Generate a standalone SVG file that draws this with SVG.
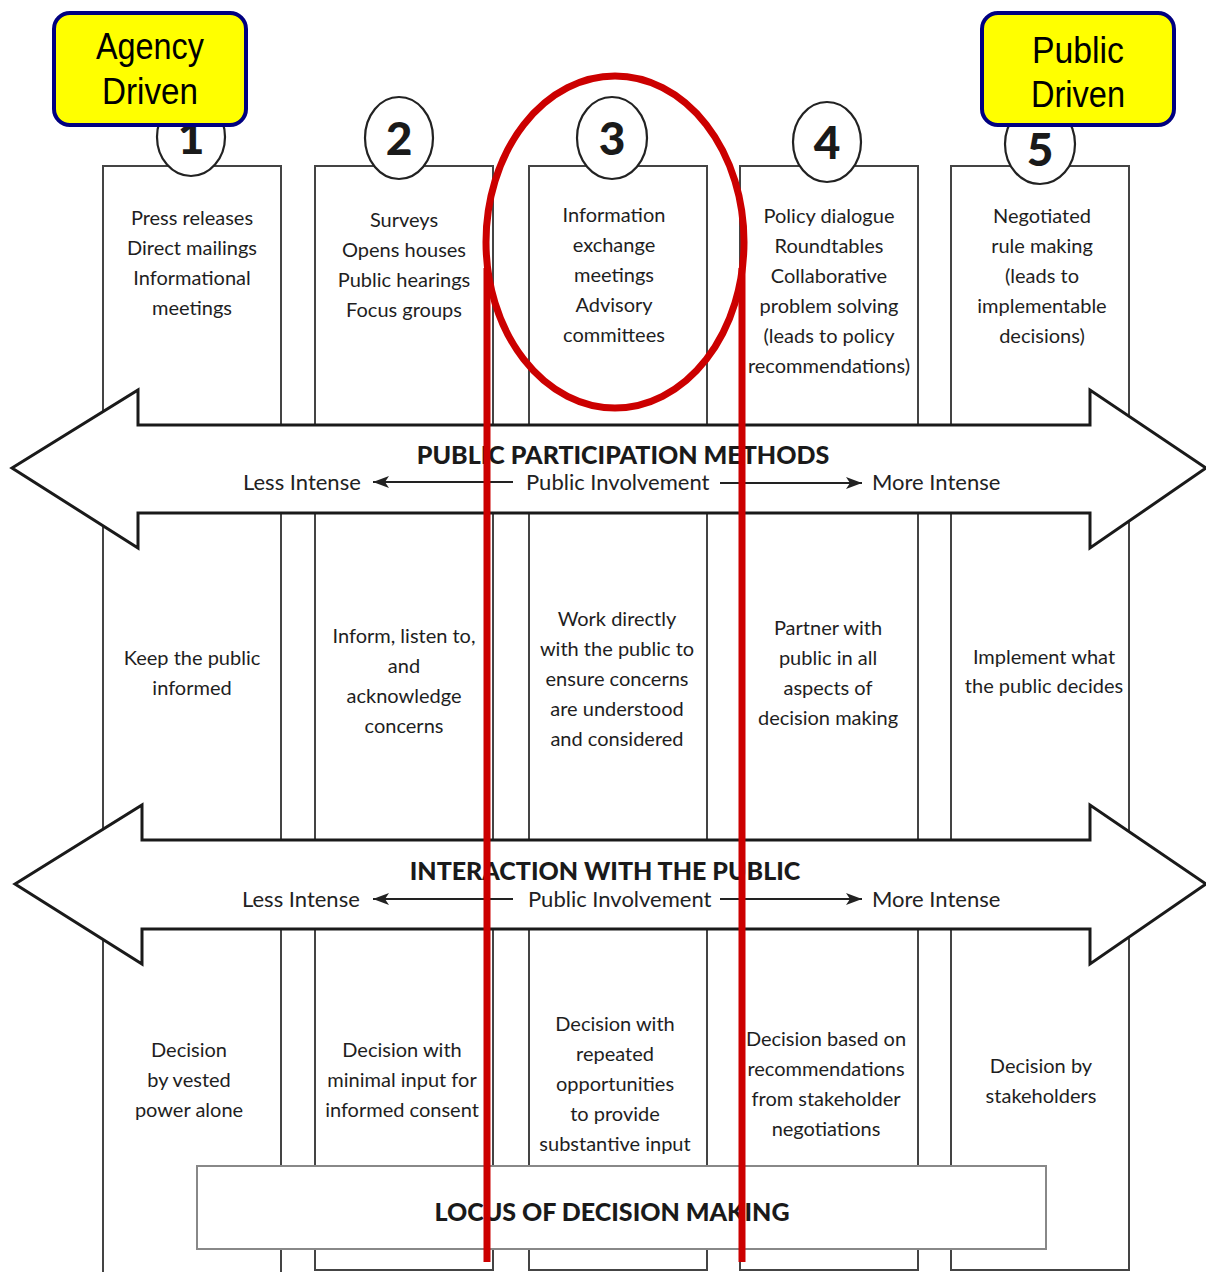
<svg xmlns="http://www.w3.org/2000/svg" width="1206" height="1272" viewBox="0 0 1206 1272">
<defs>
<style>
.col{fill:none;stroke:#444;stroke-width:2}
.circ{fill:#fff;stroke:#222;stroke-width:2.2}
.num{font-family:Lato,"DejaVu Sans",sans-serif;font-weight:900;font-size:46px;fill:#1a1a1a;text-anchor:middle}
.t{font-family:Lato,"DejaVu Sans",sans-serif;font-size:20px;fill:#1e1e1e;text-anchor:middle}
.lab{font-family:Lato,"DejaVu Sans",sans-serif;font-size:22px;fill:#222}
.head{font-family:Lato,"DejaVu Sans",sans-serif;font-weight:900;font-size:25px;fill:#1a1a1a;text-anchor:middle}
.big{fill:#fff;stroke:#1a1a1a;stroke-width:3;stroke-linejoin:miter}
.small{stroke:#222;stroke-width:2;fill:none}
.red{stroke:#cc0000;stroke-width:7;fill:none}
.yel{fill:#ffff00;stroke:#000080;stroke-width:4}
.yt{font-family:"Liberation Sans",Arial,sans-serif;font-size:37px;fill:#000;text-anchor:middle}
</style>
<marker id="ah2" viewBox="0 0 16 12" refX="16" refY="6" markerWidth="16" markerHeight="12" markerUnits="userSpaceOnUse" orient="auto">
<path d="M0,0 L16,6 L0,12 L4,6 Z" fill="#222"/>
</marker>
</defs>
<rect width="1206" height="1272" fill="#fff"/>

<g id="columns">
<path class="col" d="M103,1272 V166 H281 V1272"/>
<path class="col" d="M315,1270 V166 H493 V1270 Z"/>
<path class="col" d="M529,1270 V166 H707 V1270 Z"/>
<path class="col" d="M740,1270 V166 H918 V1270 Z"/>
<path class="col" d="M951,1270 V166 H1129 V1270 Z"/>
</g>

<g id="col1-methods">
<ellipse class="circ" cx="191" cy="137" rx="34" ry="39"/>
<text class="num" x="191" y="154">1</text>
<text class="t" x="192" y="225">Press releases</text>
<text class="t" x="192" y="255">Direct mailings</text>
<text class="t" x="192" y="285">Informational</text>
<text class="t" x="192" y="315">meetings</text>
</g>
<g id="col2-methods">
<ellipse class="circ" cx="399" cy="138" rx="34" ry="41"/>
<text class="num" x="399" y="155">2</text>
<text class="t" x="404" y="227">Surveys</text>
<text class="t" x="404" y="257">Opens houses</text>
<text class="t" x="404" y="287">Public hearings</text>
<text class="t" x="404" y="317">Focus groups</text>
</g>
<g id="col3-methods">
<ellipse class="circ" cx="612" cy="138" rx="35" ry="41"/>
<text class="num" x="612" y="155">3</text>
<text class="t" x="614" y="222">Information</text>
<text class="t" x="614" y="252">exchange</text>
<text class="t" x="614" y="282">meetings</text>
<text class="t" x="614" y="312">Advisory</text>
<text class="t" x="614" y="342">committees</text>
</g>
<g id="col4-methods">
<ellipse class="circ" cx="827" cy="142" rx="34" ry="40"/>
<text class="num" x="827" y="159">4</text>
<text class="t" x="829" y="223">Policy dialogue</text>
<text class="t" x="829" y="253">Roundtables</text>
<text class="t" x="829" y="283">Collaborative</text>
<text class="t" x="829" y="313">problem solving</text>
<text class="t" x="829" y="343">(leads to policy</text>
<text class="t" x="829" y="373">recommendations)</text>
</g>
<g id="col5-methods">
<ellipse class="circ" cx="1040" cy="144" rx="35" ry="40"/>
<text class="num" x="1040" y="166">5</text>
<text class="t" x="1042" y="223">Negotiated</text>
<text class="t" x="1042" y="253">rule making</text>
<text class="t" x="1042" y="283">(leads to</text>
<text class="t" x="1042" y="313">implementable</text>
<text class="t" x="1042" y="343">decisions)</text>
</g>

<g id="col1-interaction">
<text class="t" x="192" y="665">Keep the public</text>
<text class="t" x="192" y="695">informed</text>
</g>
<g id="col2-interaction">
<text class="t" x="404" y="643">Inform, listen to,</text>
<text class="t" x="404" y="673">and</text>
<text class="t" x="404" y="703">acknowledge</text>
<text class="t" x="404" y="733">concerns</text>
</g>
<g id="col3-interaction">
<text class="t" x="617" y="626">Work directly</text>
<text class="t" x="617" y="656">with the public to</text>
<text class="t" x="617" y="686">ensure concerns</text>
<text class="t" x="617" y="716">are understood</text>
<text class="t" x="617" y="746">and considered</text>
</g>
<g id="col4-interaction">
<text class="t" x="828" y="635">Partner with</text>
<text class="t" x="828" y="665">public in all</text>
<text class="t" x="828" y="695">aspects of</text>
<text class="t" x="828" y="725">decision making</text>
</g>
<g id="col5-interaction">
<text class="t" x="1044" y="664">Implement what</text>
<text class="t" x="1044" y="693">the public decides</text>
</g>

<g id="col1-decision">
<text class="t" x="189" y="1057">Decision</text>
<text class="t" x="189" y="1087">by vested</text>
<text class="t" x="189" y="1117">power alone</text>
</g>
<g id="col2-decision">
<text class="t" x="402" y="1057">Decision with</text>
<text class="t" x="402" y="1087">minimal input for</text>
<text class="t" x="402" y="1117">informed consent</text>
</g>
<g id="col3-decision">
<text class="t" x="615" y="1031">Decision with</text>
<text class="t" x="615" y="1061">repeated</text>
<text class="t" x="615" y="1091">opportunities</text>
<text class="t" x="615" y="1121">to provide</text>
<text class="t" x="615" y="1151">substantive input</text>
</g>
<g id="col4-decision">
<text class="t" x="826" y="1046">Decision based on</text>
<text class="t" x="826" y="1076">recommendations</text>
<text class="t" x="826" y="1106">from stakeholder</text>
<text class="t" x="826" y="1136">negotiations</text>
</g>
<g id="col5-decision">
<text class="t" x="1041" y="1073">Decision by</text>
<text class="t" x="1041" y="1103">stakeholders</text>
</g>

<g id="methods-arrow">
<path class="big" d="M12,468 L138,390 L138,425 L1090,425 L1090,390 L1206,468 L1090,548 L1090,513 L138,513 L138,548 Z"/>
<text class="head" x="623" y="464">PUBLIC PARTICIPATION METHODS</text>
<text class="lab" x="243" y="490">Less Intense</text>
<text class="lab" x="526" y="490">Public Involvement</text>
<text class="lab" x="872" y="490">More Intense</text>
</g>
<g id="interaction-arrow">
<path class="big" d="M15,884 L142,805 L142,840 L1090,840 L1090,805 L1206,884 L1090,964 L1090,929 L142,929 L142,964 Z"/>
<text class="head" x="605" y="880">INTERACTION WITH THE PUBLIC</text>
<text class="lab" x="242" y="907">Less Intense</text>
<text class="lab" x="528" y="907">Public Involvement</text>
<text class="lab" x="872" y="907">More Intense</text>
</g>

<g id="connectors">
<line class="small" x1="513" y1="482" x2="373" y2="482" marker-end="url(#ah2)"/>
<line class="small" x1="720" y1="483" x2="862" y2="483" marker-end="url(#ah2)"/>
<line class="small" x1="513" y1="899" x2="373" y2="899" marker-end="url(#ah2)"/>
<line class="small" x1="720" y1="899" x2="862" y2="899" marker-end="url(#ah2)"/>
</g>

<g id="locus">
<rect x="197" y="1166" width="849" height="83" fill="#fff" stroke="#888" stroke-width="2"/>
<text class="head" x="612" y="1221">LOCUS OF DECISION MAKING</text>
</g>

<g id="agency-driven">
<rect class="yel" x="54" y="13" width="192" height="112" rx="16"/>
<text class="yt" x="150" y="59" textLength="108" lengthAdjust="spacingAndGlyphs">Agency</text>
<text class="yt" x="150" y="104" textLength="96" lengthAdjust="spacingAndGlyphs">Driven</text>
</g>
<g id="public-driven">
<rect class="yel" x="982" y="13" width="192" height="112" rx="16"/>
<text class="yt" x="1078" y="63" textLength="92" lengthAdjust="spacingAndGlyphs">Public</text>
<text class="yt" x="1078" y="107" textLength="94" lengthAdjust="spacingAndGlyphs">Driven</text>
</g>

<g id="highlight">
<ellipse class="red" cx="615" cy="242" rx="129" ry="166"/>
<line class="red" x1="487" y1="268" x2="487" y2="1262"/>
<line class="red" x1="742" y1="268" x2="742" y2="1262"/>
</g>
</svg>
